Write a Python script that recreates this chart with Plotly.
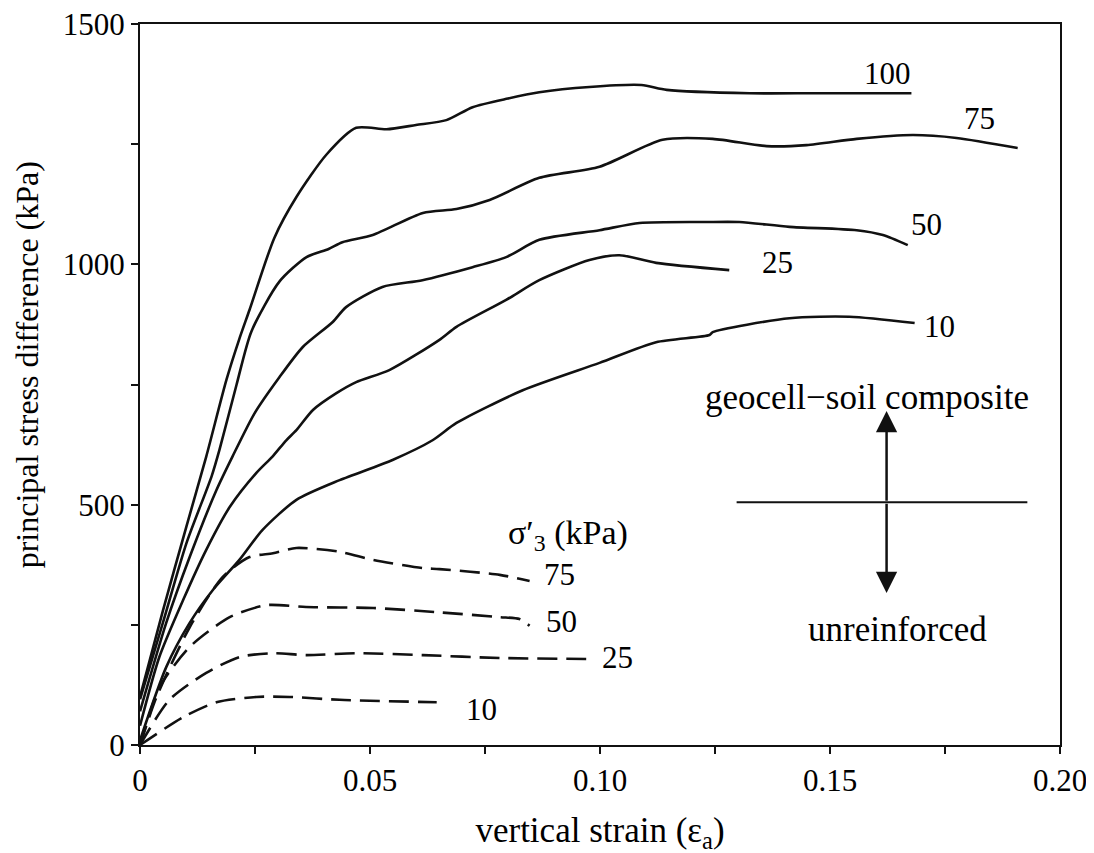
import plotly.graph_objects as go

# ---- data ----
# geocell-soil composite (solid), sigma'3 = 100, 75, 50, 25, 10 kPa
x_g100 = [0, 0.005, 0.0101, 0.0144, 0.0188, 0.0216, 0.0238, 0.0292, 0.034, 0.0405, 0.047, 0.0536, 0.060, 0.0666, 0.0723, 0.080, 0.0868, 0.0977, 0.109, 0.1145, 0.1325, 0.147, 0.1677]
y_g100 = [100, 280, 455, 600, 760, 845, 905, 1055, 1140, 1228, 1284, 1281, 1290, 1300, 1327, 1345, 1358, 1369, 1373, 1363, 1356, 1356, 1356]

x_g75 = [0, 0.005, 0.0101, 0.0156, 0.0173, 0.021, 0.0242, 0.0303, 0.0362, 0.041, 0.044, 0.0506, 0.0615, 0.0688, 0.076, 0.0868, 0.0999, 0.1136, 0.1245, 0.1362, 0.1449, 0.1558, 0.168, 0.1775, 0.1908]
y_g75 = [95, 255, 420, 560, 615, 750, 860, 964, 1015, 1032, 1046, 1061, 1107, 1115, 1134, 1180, 1203, 1259, 1261, 1246, 1248, 1261, 1269, 1263, 1242]

x_g50 = [0, 0.0057, 0.0108, 0.0166, 0.0201, 0.0249, 0.0303, 0.0354, 0.0419, 0.0448, 0.0527, 0.0614, 0.0723, 0.0796, 0.0868, 0.0999, 0.1086, 0.1231, 0.1303, 0.1412, 0.1558, 0.1615, 0.1669]
y_g50 = [70, 254, 391, 530, 600, 690, 765, 828, 880, 911, 953, 967, 994, 1015, 1051, 1071, 1086, 1088, 1088, 1078, 1071, 1061, 1040]

x_g25 = [0, 0.0042, 0.0094, 0.0144, 0.0195, 0.0253, 0.0288, 0.0318, 0.034, 0.0376, 0.0427, 0.047, 0.0542, 0.0651, 0.0688, 0.0796, 0.0868, 0.0977, 0.1042, 0.1122, 0.1281]
y_g25 = [40, 183, 302, 406, 495, 566, 600, 634, 655, 697, 732, 755, 780, 843, 870, 926, 967, 1009, 1019, 1003, 988]

x_g10 = [0, 0.0057, 0.0108, 0.0158, 0.0216, 0.0266, 0.034, 0.0434, 0.0549, 0.0636, 0.0688, 0.0832, 0.0999, 0.1122, 0.1238, 0.1245, 0.1412, 0.1542, 0.1684]
y_g10 = [10, 162, 254, 322, 385, 447, 510, 551, 593, 634, 670, 738, 795, 838, 853, 859, 888, 891, 878]

# unreinforced (dashed), sigma'3 = 75, 50, 25, 10 kPa
x_u75 = [0, 0.0036, 0.0108, 0.018, 0.0238, 0.0289, 0.034, 0.0434, 0.0507, 0.0615, 0.0651, 0.0782, 0.0847]
y_u75 = [0, 100, 245, 350, 391, 399, 410, 402, 385, 368, 366, 354, 341]

x_u50 = [0, 0.0043, 0.0108, 0.0195, 0.0275, 0.0361, 0.0507, 0.0651, 0.0782, 0.0825, 0.0847]
y_u50 = [0, 121, 204, 266, 291, 287, 285, 276, 266, 262, 248]

x_u25 = [0, 0.0064, 0.0144, 0.0216, 0.0289, 0.0361, 0.047, 0.0615, 0.0782, 0.097]
y_u25 = [0, 94, 150, 183, 191, 187, 191, 187, 181, 179]

x_u10 = [0, 0.0094, 0.0166, 0.0253, 0.0325, 0.0434, 0.0645]
y_u10 = [0, 58, 89, 100, 100, 94, 89]

# curve labels
solid_labels = ["100", "75", "50", "25", "10"]
solid_label_x = [0.1625, 0.1825, 0.171, 0.1386, 0.1738]
solid_label_y = [1398, 1304, 1082, 1003, 870]

dashed_labels = ["75", "50", "25", "10"]
dashed_label_x = [0.0912, 0.0916, 0.1038, 0.0742]
dashed_label_y = [354, 256, 183, 73]

# axis ticks
x_tickvals = [0, 0.05, 0.10, 0.15, 0.20]
x_ticktext = ["0", "0.05", "0.10", "0.15", "0.20"]
y_tickvals = [0, 500, 1000, 1500]
y_ticktext = ["0", "500", "1000", "1500"]

# divider / arrow annotation geometry (data units)
divider_x = [0.1297, 0.1929]
divider_y = [505, 505]
arrow_x = 0.1623
arrow_up_tip = 695
arrow_down_tip = 316

FONT = "Liberation Serif"
BLACK = "#111111"

fig = go.Figure()

solid_sets = [(x_g100, y_g100), (x_g75, y_g75), (x_g50, y_g50), (x_g25, y_g25), (x_g10, y_g10)]
for (xs, ys), name in zip(solid_sets, solid_labels):
    fig.add_trace(go.Scatter(x=xs, y=ys, mode="lines", name=f"composite {name}",
                             line=dict(color=BLACK, width=2.6, shape="spline", smoothing=0.7)))

dashed_sets = [(x_u75, y_u75), (x_u50, y_u50), (x_u25, y_u25), (x_u10, y_u10)]
for (xs, ys), name in zip(dashed_sets, dashed_labels):
    fig.add_trace(go.Scatter(x=xs, y=ys, mode="lines", name=f"unreinforced {name}",
                             line=dict(color=BLACK, width=2.6, dash="20px,9px", shape="spline", smoothing=0.7)))

# divider line
fig.add_trace(go.Scatter(x=divider_x, y=divider_y, mode="lines", line=dict(color=BLACK, width=2)))

annotations = []
for t, x, y in zip(solid_labels, solid_label_x, solid_label_y):
    annotations.append(dict(x=x, y=y, text=t, showarrow=False, font=dict(size=31)))
for t, x, y in zip(dashed_labels, dashed_label_x, dashed_label_y):
    annotations.append(dict(x=x, y=y, text=t, showarrow=False, font=dict(size=31)))
annotations.append(dict(x=0.093, y=437, text="σ′<sub>3</sub> (kPa)", showarrow=False, font=dict(size=34)))
annotations.append(dict(x=0.158, y=724, text="geocell−soil composite", showarrow=False, font=dict(size=35)))
annotations.append(dict(x=0.1647, y=241, text="unreinforced", showarrow=False, font=dict(size=35)))
for tip in (arrow_up_tip, arrow_down_tip):
    annotations.append(dict(x=arrow_x, y=tip, ax=arrow_x, ay=divider_y[0], axref="x", ayref="y",
                            xref="x", yref="y", text="", showarrow=True, arrowhead=2,
                            arrowsize=1.7, arrowwidth=2.5, arrowcolor=BLACK))
# y-axis title (placed as rotated text, slightly above the axis centre as in the reference)
annotations.append(dict(xref="paper", yref="paper", x=-0.1225, y=0.527, textangle=-90,
                        text="principal stress difference (kPa)", showarrow=False,
                        xanchor="center", yanchor="middle", font=dict(size=32)))

# the page body adds an 8px margin; margins compensate so the plot area sits where the reference has it
fig.update_layout(
    width=1094, height=853,
    margin=dict(l=132, r=42, t=16, b=116),
    paper_bgcolor="white", plot_bgcolor="white",
    font=dict(family=FONT, color="black", size=31),
    showlegend=False,
    annotations=annotations,
)
fig.update_xaxes(range=[0, 0.20], tickvals=x_tickvals, ticktext=x_ticktext, automargin=False,
                 ticks="outside", ticklen=7, tickwidth=2, tickcolor=BLACK, ticklabeloverflow="allow",
                 minor=dict(dtick=0.025, ticks="outside", ticklen=7, tickwidth=2, tickcolor=BLACK, showgrid=False),
                 showline=True, linewidth=2, linecolor=BLACK, mirror=True,
                 showgrid=False, zeroline=False, tickfont=dict(size=31),
                 title=dict(text="vertical strain (ε<sub>a</sub>)", font=dict(size=35), standoff=20))
fig.update_yaxes(range=[0, 1500], tickvals=y_tickvals, ticktext=y_ticktext, automargin=False,
                 ticks="outside", ticklen=7, tickwidth=2, tickcolor=BLACK, ticklabeloverflow="allow",
                 minor=dict(dtick=250, ticks="outside", ticklen=7, tickwidth=2, tickcolor=BLACK, showgrid=False),
                 showline=True, linewidth=2, linecolor=BLACK, mirror=True,
                 showgrid=False, zeroline=False, tickfont=dict(size=31))

fig.write_html("out.html")
